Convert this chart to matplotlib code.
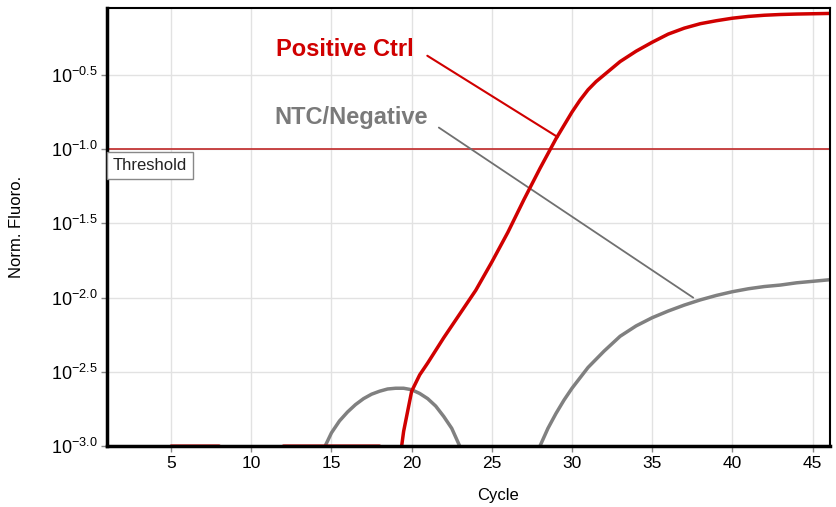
import numpy as np
import matplotlib
matplotlib.use("Agg")
import matplotlib.pyplot as plt

plt.rcParams['font.family'] = ['Liberation Sans', 'DejaVu Sans']
plt.rcParams['mathtext.fontset'] = 'custom'
plt.rcParams['mathtext.rm'] = 'Liberation Sans'

# log10 of normalised fluorescence
pos_cycles = [1, 2, 3, 4, 5, 6, 7, 8, 9, 10, 11, 12, 13, 14, 15, 16, 17, 18, 19,
              19.5, 20, 20.5, 21, 22, 23, 24, 25, 26, 27, 28, 29, 29.5, 30, 30.5,
              31, 31.5, 32, 33, 34, 35, 36, 37, 38, 39, 40, 41, 42, 43, 44, 45, 46]
pos_log = [-3.3, -3.3, -3.3, -3.3, -3.0, -3.0, -3.0, -3.0, -3.3, -3.3, -3.3,
           -3.0, -3.0, -3.0, -3.0, -3.0, -3.0, -3.0, -3.3,
           -2.9, -2.63, -2.52, -2.44, -2.27, -2.11, -1.95, -1.76, -1.56, -1.34,
           -1.13, -0.93, -0.84, -0.75, -0.67, -0.60, -0.545, -0.50, -0.41,
           -0.34, -0.28, -0.225, -0.185, -0.155, -0.135, -0.118, -0.106,
           -0.098, -0.093, -0.09, -0.088, -0.086]

ntc1_cycles = [14.6, 15, 15.5, 16, 16.5, 17, 17.5, 18, 18.5, 19, 19.5, 20,
               20.5, 21, 21.5, 22, 22.5, 23]
ntc1_log = [-3.0, -2.91, -2.83, -2.77, -2.72, -2.68, -2.65, -2.63, -2.615,
            -2.61, -2.61, -2.62, -2.645, -2.68, -2.73, -2.80, -2.88, -3.0]

ntc2_cycles = [28, 28.5, 29, 29.5, 30, 30.5, 31, 32, 33, 34, 35, 36, 37, 38,
               39, 40, 41, 42, 43, 44, 45, 46]
ntc2_log = [-3.0, -2.88, -2.78, -2.69, -2.61, -2.54, -2.47, -2.36, -2.26,
            -2.19, -2.135, -2.09, -2.05, -2.015, -1.985, -1.96, -1.94, -1.925,
            -1.915, -1.90, -1.89, -1.88]

threshold_log = -1.0
x_ticks = [5, 10, 15, 20, 25, 30, 35, 40, 45]
y_tick_exps = [-3.0, -2.5, -2.0, -1.5, -1.0, -0.5]

red = '#d00000'
gray = '#808080'

fig = plt.figure(figsize=(8.36, 5.07), dpi=100)
ax = fig.add_axes([0.128, 0.120, 0.865, 0.864])

ax.set_yscale('log')
ax.plot(ntc1_cycles, np.power(10.0, ntc1_log), color=gray, lw=2.5, zorder=3)
ax.plot(ntc2_cycles, np.power(10.0, ntc2_log), color=gray, lw=2.5, zorder=3)
ax.plot(pos_cycles, np.power(10.0, pos_log), color=red, lw=2.5, zorder=4)
ax.axhline(10 ** threshold_log, color='#c02828', lw=1.2, zorder=2)

ax.set_xlim(1, 46.1)
ax.set_ylim(10 ** -3.0, 10 ** -0.05)

ax.set_xticks(x_ticks)
ax.set_xticklabels([str(t) for t in x_ticks], fontsize=12.5)
ax.set_yticks([10 ** e for e in y_tick_exps])
ax.set_yticklabels([r'$\mathregular{10^{%.1f}}$' % e for e in y_tick_exps],
                   fontsize=13)
ax.minorticks_off()
ax.tick_params(direction='out', length=4, width=1, color='#888888', pad=3)
ax.grid(True, color='#e2e2e2', lw=1)
ax.set_axisbelow(True)

for side in ['left', 'bottom']:
    ax.spines[side].set_linewidth(2.5)
for side in ['top', 'right']:
    ax.spines[side].set_linewidth(1.5)
for s in ax.spines.values():
    s.set_zorder(5)

ax.set_xlabel('Cycle', fontsize=12)
ax.set_ylabel('Norm. Fluoro.', fontsize=12)
ax.xaxis.set_label_coords(0.54, -0.095)
ax.yaxis.set_label_coords(-0.115, 0.5)

ax.text(1.35, 10 ** -1.11, 'Threshold', fontsize=12, color='#222222',
        va='center', ha='left', zorder=6,
        bbox=dict(boxstyle='square,pad=0.35', facecolor='white',
                  edgecolor='#888888', lw=1))

ax.annotate('Positive Ctrl', xy=(29.1, 10 ** -0.918), xytext=(15.85, 10 ** -0.33),
            fontsize=17, fontweight='bold', color=red, ha='center', va='center',
            arrowprops=dict(arrowstyle='-', color=red, lw=1.5, relpos=(1, 0.6),
                            shrinkA=9, shrinkB=0))
ax.annotate('NTC/Negative', xy=(37.56, 10 ** -2.0), xytext=(16.23, 10 ** -0.79),
            fontsize=17, fontweight='bold', color='#7a7a7a', ha='center',
            va='center',
            arrowprops=dict(arrowstyle='-', color='#707070', lw=1.3,
                            relpos=(1, 0.4), shrinkA=7, shrinkB=0))

fig.savefig('out.png', dpi=100)
